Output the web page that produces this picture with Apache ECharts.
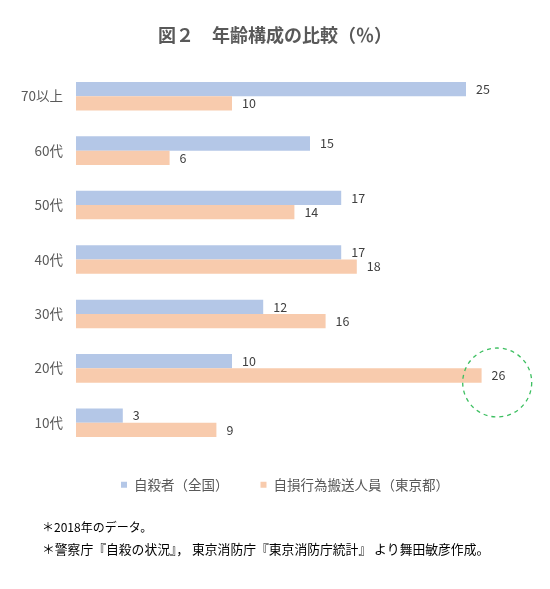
<!DOCTYPE html>
<html><head><meta charset="utf-8">
<script src="https://cdn.jsdelivr.net/npm/echarts@6/dist/echarts.min.js"></script>
<style>html,body{margin:0;padding:0;background:#fff}#c{width:550px;height:589px}</style>
</head><body><div id="c"></div>
<script>
const categories = ['70以上','60代','50代','40代','30代','20代','10代'];
const suicides = [25,15,17,17,12,10,3];
const selfHarm = [10,6,14,18,16,26,9];
const seriesNames = ['自殺者（全国）','自損行為搬送人員（東京都）'];
const highlight = {category:'20代', value:27};

const chart = echarts.init(document.getElementById('c'));
const font = '"Noto Sans CJK JP", "Noto Sans", sans-serif';
chart.setOption({
  animation:false,
  textStyle:{fontFamily:font},
  title:{text:'図２　年齢構成の比較（％）',left:'center',top:21,
    textStyle:{fontSize:18,fontWeight:'bold',color:'#595959',fontFamily:font}},
  legend:{top:473,left:116,itemWidth:6,itemHeight:6,itemGap:32,icon:'rect',
    textStyle:{fontSize:13.5,color:'#595959',fontFamily:font,padding:[0,0,0,2]},data:seriesNames},
  grid:{left:76,top:69,height:381,width:468},
  xAxis:{type:'value',min:0,max:30,show:false},
  yAxis:{type:'category',data:categories,inverse:true,
    axisLine:{show:false},axisTick:{show:false},
    axisLabel:{fontSize:13.5,color:'#595959',margin:13,fontFamily:font}},
  series:[
    {name:seriesNames[0],type:'bar',data:suicides,barWidth:14.3,barGap:'0%',
     itemStyle:{color:'#B4C7E7'},
     label:{show:true,position:'right',distance:10,color:'#404040',fontSize:12.5,fontFamily:font}},
    {name:seriesNames[1],type:'bar',data:selfHarm,barWidth:14.3,barGap:'0%',
     itemStyle:{color:'#F8CBAD'},
     label:{show:true,position:'right',distance:10,color:'#404040',fontSize:12.5,fontFamily:font},
     markPoint:{silent:true,symbol:'circle',symbolSize:69,symbolOffset:[0,7],
       label:{show:false},
       itemStyle:{color:'rgba(0,0,0,0)',borderColor:'#3CBF60',borderWidth:1.3,borderType:[4,4]},
       data:[{coord:[highlight.value,highlight.category]}]}}
  ],
  graphic:[
    {type:'text',left:42,top:521,style:{text:'＊2018年のデータ。',fontSize:12,fill:'#000',fontFamily:font}},
    {type:'text',left:42,top:543,style:{text:'＊警察庁『自殺の状況』， 東京消防庁『東京消防庁統計』 より舞田敏彦作成。',fontSize:12.8,fill:'#000',fontFamily:font}}
  ]
});
</script></body></html>
